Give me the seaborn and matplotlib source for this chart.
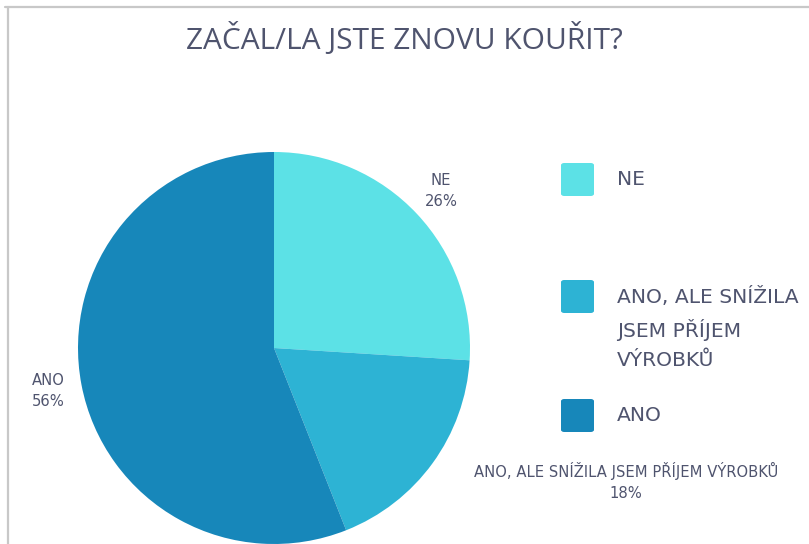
import numpy as np
import seaborn as sns
import matplotlib.pyplot as plt
from matplotlib.patches import FancyBboxPatch
from matplotlib.lines import Line2D

sns.set_theme(style="white")
plt.rcParams['font.family'] = ['DejaVu Sans']

labels = ['NE', 'ANO, ALE SNÍŽILA JSEM PŘÍJEM VÝROBKŮ', 'ANO']
legend_labels = ['NE', 'ANO, ALE SNÍŽILA\nJSEM PŘÍJEM\nVÝROBKŮ', 'ANO']
shares = [26, 18, 56]
colors = ['#5ce1e6', '#2db3d4', '#1787ba']
title = 'ZAČAL/LA JSTE ZNOVU KOUŘIT?'
text_col = '#4f546e'

W, H = 809, 544
fig = plt.figure(figsize=(W / 100, H / 100), dpi=100)
ax = fig.add_axes([0, 0, 1, 1])

# pie radius 196 px, centre at (274, 348) px from top
R = 196.0
cx, cy = 274.0, 348.0

wedges, _ = ax.pie(shares, colors=colors, startangle=90, counterclock=False,
                   radius=1.0, wedgeprops=dict(linewidth=0))
ax.set_xlim(-cx / R, (W - cx) / R)
ax.set_ylim(-(H - cy) / R, cy / R)
ax.set_aspect('equal')
ax.axis('off')

# data labels outside each slice
for w, lab, s in zip(wedges, labels, shares):
    ang = np.deg2rad((w.theta1 + w.theta2) / 2)
    x, y = 1.17 * np.cos(ang), 1.17 * np.sin(ang)
    if s == 18:
        # long label pushed out to the right
        x, y = (626 - cx) / R, -(481 - cy) / R
    ax.text(x, y, f'{lab}\n{s}%', ha='center', va='center', fontsize=10.6,
            color=text_col, linespacing=1.5)

fig.text(0.5, 1 - 40 / H, title, ha='center', va='center', fontsize=21.5,
         family=['Open Sans', 'DejaVu Sans'], color=text_col)

# legend
leg_y = [180, 297, 416]
for lab, col, y in zip(legend_labels, colors, leg_y):
    sq = FancyBboxPatch((561 / W, 1 - (y + 16) / H), 33 / W, 33 / H,
                        boxstyle='round,pad=0,rounding_size=0.004',
                        transform=fig.transFigure, facecolor=col,
                        edgecolor='none')
    fig.add_artist(sq)
    fig.text(617 / W, 1 - (y - 10) / H, lab, ha='left', va='top', fontsize=14.6,
             color=text_col, linespacing=1.68)

# frame lines
fig.add_artist(Line2D([5 / W, 1], [1 - 7 / H, 1 - 7 / H], color='#c8c8c8',
                      lw=1.6, transform=fig.transFigure))
fig.add_artist(Line2D([8 / W, 8 / W], [0, 1 - 7 / H], color='#c8c8c8',
                      lw=1.6, transform=fig.transFigure))

fig.savefig('out.png', dpi=100)
